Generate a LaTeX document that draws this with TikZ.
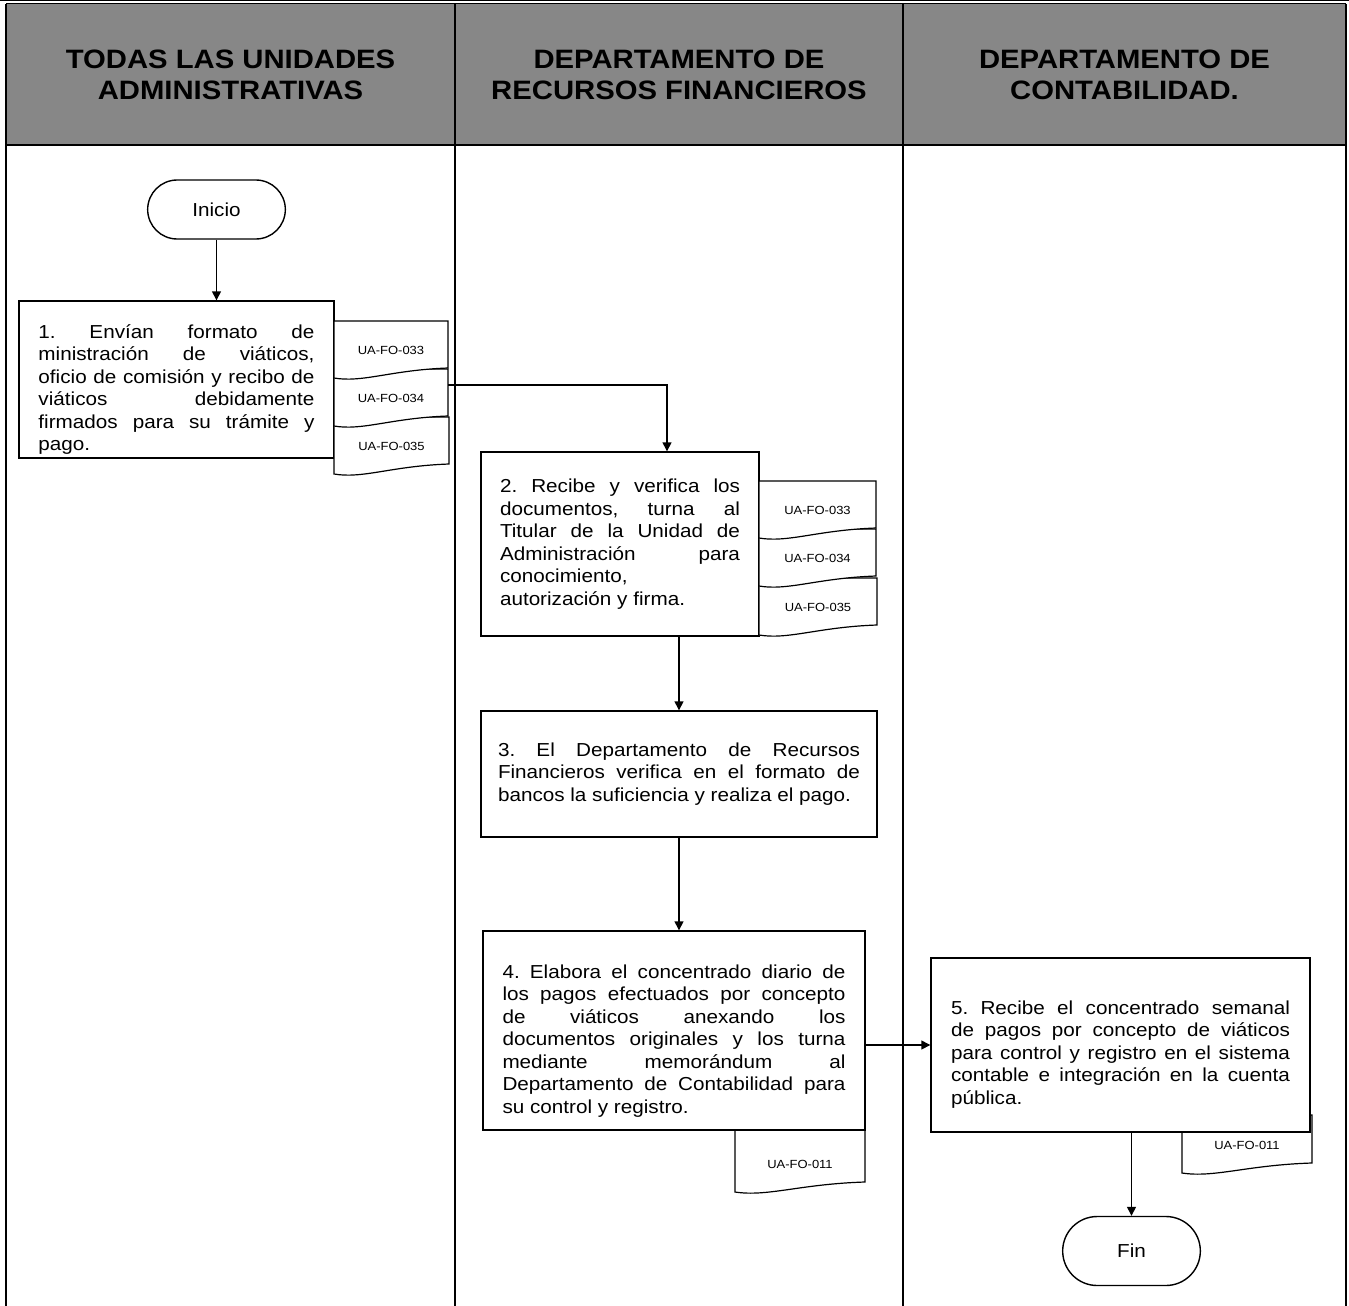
\documentclass[tikz,border=0pt]{standalone}
\usepackage{fontspec}
\setmainfont{Liberation Sans}[FakeStretch=1.1]
\usepackage{tikz}
\usetikzlibrary{arrows.meta,positioning,shapes.misc}
\definecolor{LaneHead}  {HTML}{878787}
\definecolor{LaneLine}  {HTML}{000000}

\newcommand{\bodyfont}{\fontsize{9.4}{11.25}\selectfont\frenchspacing}
\newcommand{\headfont}{\fontsize{13.3}{15.5}\selectfont\bfseries}
\newcommand{\formfont}{\fontsize{5.9}{7}\selectfont}

\tikzset{
  lane/.style={draw=LaneLine,line width=1pt},
  lanehead/.style={font=\headfont,align=center},
  stepbox/.style={draw,fill=white,line width=0.7pt,inner sep=0pt,align=justify,font=\bodyfont},
  textdrop/.style={execute at begin node={\rule{0pt}{#1}}},
  terminal/.style={draw,fill=white,rounded rectangle,line width=0.7pt,minimum width=75.5pt,font=\bodyfont},
  formline/.style={draw,fill=white,line width=0.6pt},
  formlabel/.style={font=\formfont,inner sep=0pt},
  flow/.style={line width=0.7pt,-{Triangle[length=4.5pt,width=4.5pt]}},
}

% form sheet: name, left, top, width, height of right side, label
\newcommand{\formdoc}[6]{%
  \draw[formline] (#2,#3) -- (#2+#4,#3) -- (#2+#4,#3+#5)
    .. controls (#2+0.5*#4,#3+#5+2) and (#2+0.25*#4,#3+#5+15) .. (#2,#3+#5+10) -- cycle;
  \node[formlabel] (#1) at (#2+0.5*#4,#3+#5-18) {#6};
  \coordinate (#1out) at (#2+#4,#3+16);
}

\begin{document}
\begin{tikzpicture}[x=0.5pt,y=-0.5pt]
    \useasboundingbox (0,0) rectangle (1349,1306);

    % lanes
    \fill[LaneHead] (6,4) rectangle (1346,145);
    \draw[line width=0.5pt] (0,0.5) -- (1349,0.5);
    \draw[line width=0.9pt] (6,3.5) -- (1346,3.5);
    \draw[lane] (6,145) -- (1346,145);
    \foreach \x in {6,455,903,1346}
      \draw[lane] (\x,3.5) -- (\x,1306);

    \node[lanehead] (unidades) at (230.5,75) {TODAS LAS UNIDADES\\ADMINISTRATIVAS};
    \node[lanehead] (financieros) at (679,75) {DEPARTAMENTO DE\\RECURSOS FINANCIEROS};
    \node[lanehead] (contabilidad) at (1124.5,75) {DEPARTAMENTO DE\\CONTABILIDAD.};

    % steps
    \node[terminal,minimum height=29.5pt] (inicio) at (216.5,209.5) {Inicio};

    \node[stepbox,textdrop=17pt,minimum width=157.5pt,minimum height=78.5pt,text width=138pt] (paso1) at (176.5,379.5) {%
      1. Envían formato de\linebreak
      ministración de viáticos,\linebreak
      oficio de comisión y recibo de\linebreak
      viáticos debidamente\linebreak
      firmados para su trámite y\linebreak
      pago.};

    \node[stepbox,minimum width=139pt,minimum height=92pt,text width=120pt] (paso2) at (620,544) {%
      2. Recibe y verifica los\linebreak
      documentos, turna al\linebreak
      Titular de la Unidad de\linebreak
      Administración para\linebreak
      conocimiento,\newline
      autorización y firma.};

    \node[stepbox,minimum width=198pt,minimum height=63pt,text width=181pt] (paso3) at (679,774) {%
      3. El Departamento de Recursos\linebreak
      Financieros verifica en el formato de\linebreak
      bancos la suficiencia y realiza el pago.};

    \formdoc{fo011a}{735}{1128}{130}{54}{UA-FO-011}
    \node[stepbox,textdrop=17pt,minimum width=191pt,minimum height=99.5pt,text width=171.5pt] (paso4) at (674,1030.5) {%
      4. Elabora el concentrado diario de\linebreak
      los pagos efectuados por concepto\linebreak
      de viáticos anexando los\linebreak
      documentos originales y los turna\linebreak
      mediante memorándum al\linebreak
      Departamento de Contabilidad para\linebreak
      su control y registro.};

    \formdoc{fo011b}{1182}{1115}{130}{48}{UA-FO-011}
    \node[stepbox,textdrop=16pt,minimum width=189.5pt,minimum height=87pt,text width=169.5pt] (paso5) at (1120.5,1045) {%
      5. Recibe el concentrado semanal\linebreak
      de pagos por concepto de viáticos\linebreak
      para control y registro en el sistema\linebreak
      contable e integración en la cuenta\linebreak
      pública.};

    \node[terminal,minimum height=34.5pt] (fin) at (1131.5,1251) {Fin};

    % forms
    \formdoc{fo035a}{334}{417}{115}{47}{UA-FO-035}
    \formdoc{fo034a}{334}{369}{114}{47}{UA-FO-034}
    \formdoc{fo033a}{334}{321}{114}{47}{UA-FO-033}
    \formdoc{fo035b}{759}{578}{118}{47}{UA-FO-035}
    \formdoc{fo034b}{759}{529}{117}{47}{UA-FO-034}
    \formdoc{fo033b}{759}{481}{117}{47}{UA-FO-033}

    % flow
    \draw[flow] (inicio.south) -- (inicio |- paso1.north);
    \draw[flow] (fo034aout) -| ([xshift=23.5pt]paso2.north);
    \draw[flow] (paso2.south -| paso3.north) -- (paso3.north);
    \draw[flow] (paso3.south) -- (paso3.south |- paso4.north);
    \draw[flow] (paso5.west -| paso4.east) -- (paso5.west);
    \draw[flow] (fin.north |- paso5.south) -- (fin.north);
\end{tikzpicture}
\end{document}
